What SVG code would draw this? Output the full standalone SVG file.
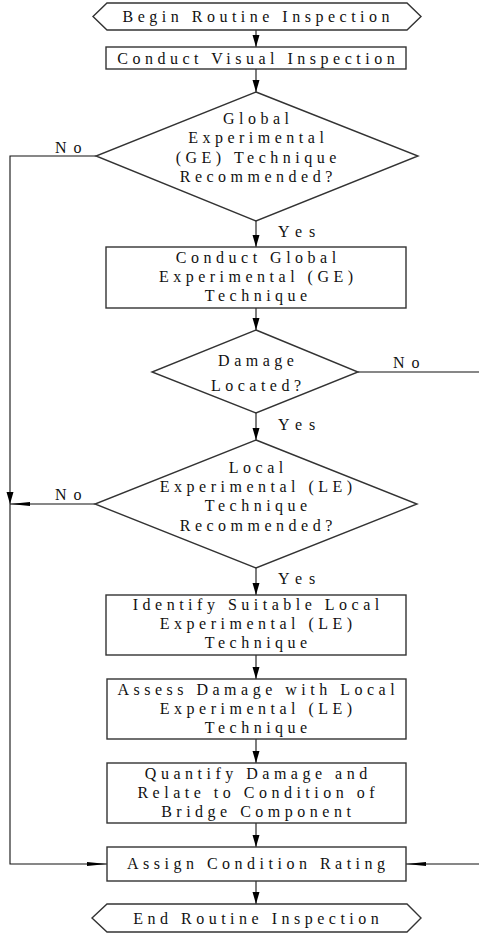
<svg xmlns="http://www.w3.org/2000/svg" width="479" height="937" viewBox="0 0 479 937">
<defs>
<style>
.shape{fill:#fff;stroke:#333;stroke-width:1.4}
.t{font-family:"Liberation Serif","Times New Roman",serif;font-size:16px;letter-spacing:4.5px;fill:#111;text-anchor:middle}
.lbl{font-family:"Liberation Serif","Times New Roman",serif;font-size:16px;letter-spacing:7px;fill:#111}
.c{fill:none;stroke:#111;stroke-width:1.1}
</style>
<marker id="ah" markerWidth="12" markerHeight="8" refX="12" refY="4" orient="auto" markerUnits="userSpaceOnUse"><path d="M0,0.5 L12,4 L0,7.5 z" fill="#000"/></marker>
<marker id="as" markerWidth="20" markerHeight="5" refX="20" refY="2.5" orient="auto" markerUnits="userSpaceOnUse"><path d="M0,0.5 L20,2.5 L0,4.5 z" fill="#000"/></marker>
</defs>
<rect width="479" height="937" fill="#fff"/>

<g id="connectors">
<line class="c" x1="256" y1="30" x2="256" y2="47" marker-end="url(#ah)"/>
<line class="c" x1="256" y1="69" x2="256" y2="92" marker-end="url(#ah)"/>
<line class="c" x1="256" y1="221" x2="256" y2="247" marker-end="url(#ah)"/>
<line class="c" x1="256" y1="308" x2="256" y2="330" marker-end="url(#ah)"/>
<line class="c" x1="256" y1="413" x2="256" y2="440" marker-end="url(#ah)"/>
<line class="c" x1="256" y1="568" x2="256" y2="595" marker-end="url(#ah)"/>
<line class="c" x1="256" y1="655" x2="256" y2="679" marker-end="url(#ah)"/>
<line class="c" x1="256" y1="739" x2="256" y2="763" marker-end="url(#ah)"/>
<line class="c" x1="256" y1="823" x2="256" y2="847" marker-end="url(#ah)"/>
<line class="c" x1="256" y1="881" x2="256" y2="904" marker-end="url(#ah)"/>
<polyline class="c" points="96,156 10,156 10,504" marker-end="url(#ah)"/>
<polyline class="c" points="10,504 10,864 107,864" marker-end="url(#as)"/>
<line class="c" x1="95" y1="504" x2="10" y2="504" marker-end="url(#as)"/>
<line class="c" x1="358" y1="372" x2="479" y2="372"/>
<line class="c" x1="479" y1="864" x2="406" y2="864" marker-end="url(#as)"/>
<text class="lbl" x="55" y="153">No</text>
<text class="lbl" x="278" y="237">Yes</text>
<text class="lbl" x="393" y="368">No</text>
<text class="lbl" x="278" y="430">Yes</text>
<text class="lbl" x="55" y="500">No</text>
<text class="lbl" x="278" y="584">Yes</text>
</g>

<g id="begin">
<polygon class="shape" points="93,16.5 107,3 407,3 421,16.5 407,30 107,30"/>
<text class="t" x="258.25" y="22">Begin Routine Inspection</text>
</g>
<g id="visual">
<rect class="shape" x="106" y="47" width="300" height="22"/>
<text class="t" x="258.25" y="63.5">Conduct Visual Inspection</text>
</g>
<g id="ge-decision">
<polygon class="shape" points="256,92 418,156 256,221 96,156"/>
<text class="t" x="258.25" y="124">Global</text>
<text class="t" x="258.25" y="143">Experimental</text>
<text class="t" x="258.25" y="162.5">(GE) Technique</text>
<text class="t" x="258.25" y="182">Recommended?</text>
</g>
<g id="ge-conduct">
<rect class="shape" x="106" y="247" width="300" height="61"/>
<text class="t" x="258.25" y="263">Conduct Global</text>
<text class="t" x="258.25" y="282">Experimental (GE)</text>
<text class="t" x="258.25" y="301">Technique</text>
</g>
<g id="damage-decision">
<polygon class="shape" points="256,330 358,372 256,413 152,372"/>
<text class="t" x="258.25" y="366">Damage</text>
<text class="t" x="258.25" y="391">Located?</text>
</g>
<g id="le-decision">
<polygon class="shape" points="256,440 417,504 256,568 95,504"/>
<text class="t" x="258.25" y="473">Local</text>
<text class="t" x="258.25" y="492">Experimental (LE)</text>
<text class="t" x="258.25" y="511">Technique</text>
<text class="t" x="258.25" y="531">Recommended?</text>
</g>
<g id="identify">
<rect class="shape" x="106" y="595" width="300" height="60"/>
<text class="t" x="258.25" y="609.5">Identify Suitable Local</text>
<text class="t" x="258.25" y="629">Experimental (LE)</text>
<text class="t" x="258.25" y="648">Technique</text>
</g>
<g id="assess">
<rect class="shape" x="107" y="679" width="299" height="60"/>
<text class="t" x="258.25" y="695">Assess Damage with Local</text>
<text class="t" x="258.25" y="714">Experimental (LE)</text>
<text class="t" x="258.25" y="733">Technique</text>
</g>
<g id="quantify">
<rect class="shape" x="107" y="763" width="299" height="60"/>
<text class="t" x="258.25" y="778.5">Quantify Damage and</text>
<text class="t" x="258.25" y="798">Relate to Condition of</text>
<text class="t" x="258.25" y="816.5">Bridge Component</text>
</g>
<g id="assign">
<rect class="shape" x="107" y="847" width="299" height="34"/>
<text class="t" x="258.25" y="869">Assign Condition Rating</text>
</g>
<g id="end">
<polygon class="shape" points="92,918 107,904 407,904 421,918 407,932 107,932"/>
<text class="t" x="258.25" y="924">End Routine Inspection</text>
</g>
</svg>
